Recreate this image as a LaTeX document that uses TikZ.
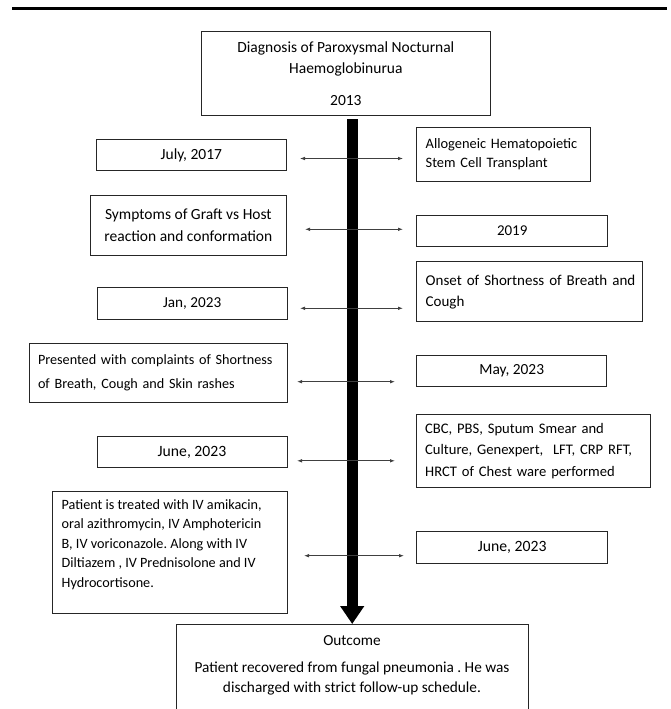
\documentclass[tikz,border=0pt]{standalone}
\usepackage{fontspec}
\setmainfont{Carlito}
\usetikzlibrary{arrows.meta}
\frenchspacing
\begin{document}
\begin{tikzpicture}[x=1pt,y=-1pt,
  box/.style={draw=black!85, line width=0.9pt, inner xsep=9pt, inner ysep=0pt, outer sep=0pt,
    font=\fontsize{15.3}{19.5}\selectfont},
  fs/.style={font=\fontsize{#1}{19.5}\selectfont},
  cbox/.style={box, align=center},
  lbox/.style={box, align=left},
  link/.style={draw=black!75, line width=0.8pt, {Latex[length=5pt,width=3.6pt]}-{Latex[length=5pt,width=3.6pt]}},
  spine/.style={draw=black, line width=11pt, -{Triangle[width=23pt,length=18pt]}},
  rulebar/.style={draw=black, line width=3pt}
]
\useasboundingbox (0,0) rectangle (670,709);
\clip (0,0) rectangle (670,709);

% top rule
\coordinate (rl) at (12,8.5);
\coordinate (rr) at (667,8.5);
\draw[rulebar] (rl) -- (rr);

% top box
\node[cbox, fs=15.5, minimum width=288.3pt, minimum height=83.3pt] (top) at (345.85,73.35)
  {Diagnosis of Paroxysmal Nocturnal\\[2pt] Haemoglobinurua\\[12pt] 2013};

% left column
\node[cbox, fs=15.5, minimum width=189.3pt, minimum height=31.4pt] (jul) at (191.35,155) {July, 2017};
\node[cbox, fs=15.5, minimum width=195.3pt, minimum height=60pt] (sym) at (188.35,225)
  {Symptoms of Graft vs Host\\[2pt] reaction and conformation};
\node[cbox, fs=15.2, minimum width=189.7pt, minimum height=32pt] (jan) at (192.15,303.3) {Jan, 2023};
\node[lbox, fs=14.2, minimum width=258pt, text width=240pt, minimum height=59.7pt] (pre) at (158,372.85)
  {\mbox{Presented with complaints of Shortness}\\[4.5pt] \mbox{of Breath, Cough and Skin rashes}};
\node[cbox, fs=15.7, minimum width=190pt, minimum height=31pt] (junl) at (192,452.2) {June, 2023};
\node[box, fs=14.2, inner xsep=0pt, minimum width=234.3pt, minimum height=121.3pt] (trt) at (169.85,552.35)
  {\parbox[c][121.3pt][t]{216.3pt}{\raggedright\rule{0pt}{17.5pt}\mbox{Patient is treated with IV amikacin,}\\
   \mbox{oral azithromycin, IV Amphotericin}\\ \mbox{B, IV voriconazole. Along with IV}\\
   \mbox{Diltiazem , IV Prednisolone and IV}\\ \mbox{Hydrocortisone.}}};

% right column
\node[lbox, fs=14.4, minimum width=174pt, text width=156pt, minimum height=53.7pt] (allo) at (503.7,154.15)
  {\mbox{Allogeneic Hematopoietic}\\ \mbox{Stem Cell Transplant}};
\node[cbox, fs=15, minimum width=191pt, minimum height=31pt] (y19) at (512.2,230.5) {2019};
\node[lbox, fs=15, minimum width=225.6pt, text width=207.6pt, minimum height=60pt] (ons) at (529.5,291.7)
  {\mbox{Onset of Shortness of Breath and}\\[1.5pt] \mbox{Cough}};
\node[cbox, fs=15.4, minimum width=190pt, minimum height=31.7pt] (may) at (511.7,370.85) {May, 2023};
\node[lbox, fs=14.6, minimum width=233.3pt, text width=216.3pt, minimum height=73.4pt] (cbc) at (533.35,451)
  {\mbox{CBC, PBS, Sputum Smear and}\\[2pt] \mbox{Culture, Genexpert,\ \ LFT, CRP RFT,}\\[2pt] \mbox{HRCT of Chest ware performed}};
\node[cbox, fs=15.7, minimum width=191pt, minimum height=31.6pt] (junr) at (512.2,547.5) {June, 2023};

% outcome
\node[box, inner xsep=0pt, minimum width=352pt, minimum height=100pt, anchor=north] (out) at (352,624)
  {\parbox[c][100pt][t]{352pt}{\centering\rule{0pt}{21pt}Outcome\\[8pt]
   Patient recovered from fungal pneumonia . He was\\ discharged with strict follow-up schedule.}};

% spine
\coordinate (sp) at (352.2,119.3);
\draw[spine] (sp) -- (out.north -| sp);

% event links
\coordinate (l1) at (300,158.5); \coordinate (r1) at (403,158.5);
\coordinate (l2) at (305,229.3); \coordinate (r2) at (403,229.3);
\coordinate (l3) at (300,308.3); \coordinate (r3) at (403,308.3);
\coordinate (l4) at (297,381.7); \coordinate (r4) at (395,381.7);
\coordinate (l5) at (297,460.8); \coordinate (r5) at (395,460.8);
\coordinate (l6) at (304,555.7); \coordinate (r6) at (404,555.7);
\foreach \i in {1,...,6} {\draw[link] (l\i) -- (r\i);}
\end{tikzpicture}
\end{document}
